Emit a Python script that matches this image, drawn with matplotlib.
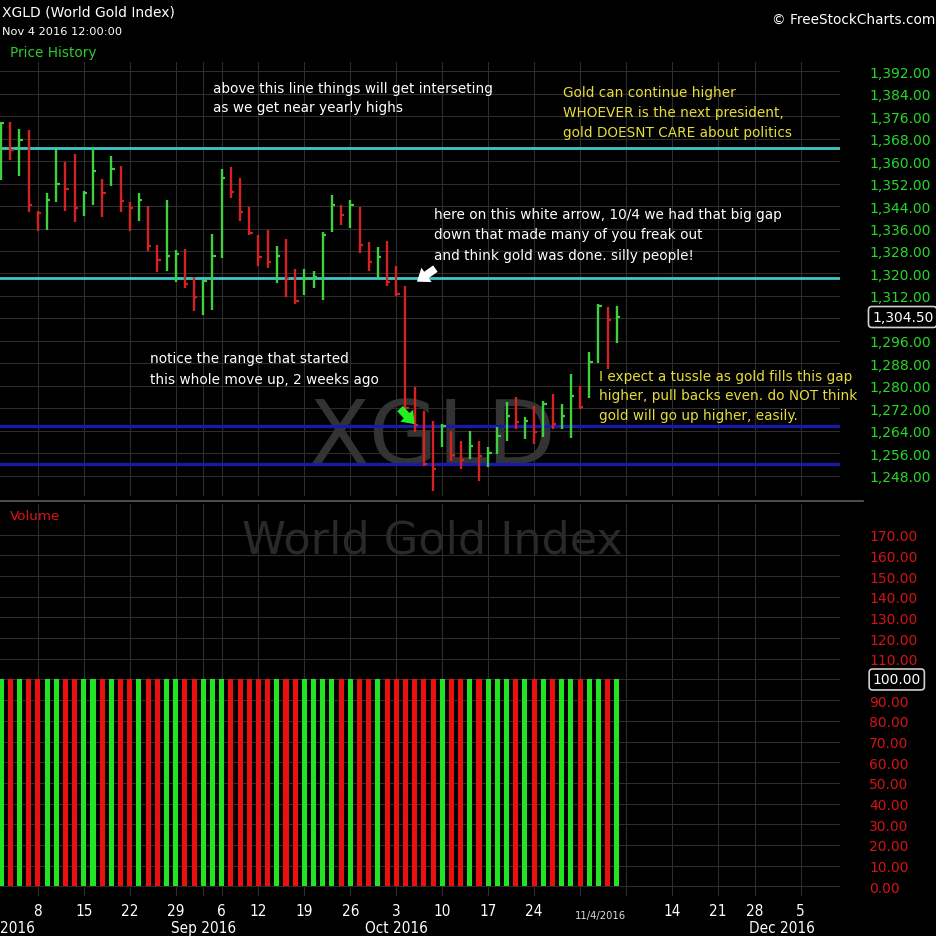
import numpy as np
import matplotlib
matplotlib.use("Agg")
import matplotlib.pyplot as plt
from matplotlib import font_manager
from matplotlib.lines import Line2D
from matplotlib.transforms import blended_transform_factory

# XGLD daily bars, Aug 2 2016 -> Nov 4 2016 (index 0 = Aug 8, trading days)
day_index = np.arange(-4, 64)

high = [1374.1, 1373.8, 1371.5, 1371.1, 1342.1, 1348.7, 1364.3, 1359.6, 1362.5, 1349.3,
        1364.6, 1353.6, 1361.7, 1358.2, 1345.3, 1348.7, 1344.1, 1330.1, 1346.2, 1328.4,
        1328.7, 1318.6, 1317.8, 1334.1, 1357.2, 1357.8, 1354.0, 1343.6, 1333.7, 1335.6,
        1329.7, 1332.3, 1321.6, 1321.6, 1321.0, 1334.9, 1348.0, 1344.4, 1346.2, 1343.6,
        1331.1, 1329.3, 1331.7, 1322.6, 1315.4, 1279.5, 1271.1, 1267.6, 1266.4, 1264.0,
        1260.5, 1263.8, 1260.5, 1258.1, 1265.4, 1274.1, 1275.9, 1268.8, 1272.9, 1274.7,
        1277.1, 1273.5, 1284.2, 1280.0, 1291.9, 1309.1, 1308.0, 1308.3]
low = [1353.4, 1360.5, 1354.6, 1341.8, 1335.2, 1335.5, 1345.3, 1342.4, 1338.2, 1340.6,
       1344.5, 1340.0, 1351.3, 1341.8, 1335.2, 1338.6, 1328.1, 1320.4, 1321.0, 1316.9,
       1314.8, 1306.7, 1305.3, 1307.1, 1325.5, 1346.8, 1338.6, 1333.7, 1322.8, 1321.8,
       1316.5, 1311.7, 1309.1, 1312.4, 1314.7, 1310.7, 1334.9, 1337.3, 1336.1, 1327.3,
       1321.0, 1318.4, 1315.6, 1311.9, 1270.5, 1263.4, 1251.5, 1242.6, 1258.1, 1253.3,
       1250.4, 1253.9, 1246.2, 1251.0, 1255.7, 1260.5, 1264.6, 1261.0, 1259.3, 1261.7,
       1264.6, 1264.6, 1261.4, 1271.7, 1275.7, 1288.0, 1286.0, 1295.1]
close = [1373.5, 1364.0, 1367.6, 1344.5, 1341.4, 1346.3, 1351.8, 1350.0, 1343.3, 1348.7,
         1356.6, 1348.7, 1357.2, 1345.9, 1343.3, 1346.2, 1329.9, 1324.9, 1326.1, 1326.9,
         1316.2, 1311.5, 1317.2, 1326.3, 1354.0, 1348.9, 1341.8, 1334.4, 1325.8, 1324.0,
         1326.1, 1318.3, 1310.3, 1318.0, 1318.6, 1333.7, 1344.4, 1340.8, 1344.4, 1330.1,
         1324.0, 1325.8, 1317.1, 1312.7, 1272.0, 1266.0, 1252.0, 1250.5, 1265.8, 1255.3,
         1253.6, 1258.7, 1255.1, 1256.1, 1262.2, 1269.4, 1267.0, 1267.6, 1263.4, 1273.5,
         1266.4, 1269.1, 1276.5, 1272.6, 1288.4, 1308.5, 1303.4, 1304.5]
volume = [100, 100, 100, 100, 100, 100, 100, 100, 100, 100, 100, 100, 100, 100, 100, 100, 100,
          100, 100, 100, 100, 100, 100, 100, 100, 100, 100, 100, 100, 100, 100, 100, 100, 100,
          100, 100, 100, 100, 100, 100, 100, 100, 100, 100, 100, 100, 100, 100, 100, 100, 100,
          100, 100, 100, 100, 100, 100, 100, 100, 100, 100, 100, 100, 100, 100, 100, 100, 100]

last_price = 1304.5
last_volume = 100

# drawn levels
cyan_levels = [1364.5, 1318.3]
blue_levels = [1265.6, 1252.0]

price_ticks = list(range(1248, 1393, 8))
volume_ticks = list(range(0, 171, 10))

day_ticks = [0, 5, 10, 15, 20, 24, 29, 34, 39, 44, 49, 54, 69, 74, 78, 83]
day_labels = ["8", "15", "22", "29", "6", "12", "19", "26", "3", "10", "17", "24",
              "14", "21", "28", "5"]
month_ticks = [18, 39, 81]
month_labels = ["Sep 2016", "Oct 2016", "Dec 2016"]
grid_x = [0, 5, 10, 15, 18, 20, 24, 29, 34, 39, 44, 49, 54, 59, 64, 69, 74, 78, 83]

W = H = 937


def fx(px):
    return px / W


def fy(py):
    return 1 - py / H


GREEN = "#3fcf3f"
RED = "#d42222"
VGREEN = "#22e422"
VRED = "#ea1010"

up = np.r_[True, np.diff(close) >= 0]
pcols = [GREEN if u else RED for u in up]
vcols = [VGREEN if u else VRED for u in up]

fig = plt.figure(figsize=(9.37, 9.37), dpi=100, facecolor="black")
ax_p = fig.add_axes([0, fy(497), fx(840), (497 - 63) / H])
ax_v = fig.add_axes([0, fy(897), fx(840), (897 - 505) / H])

for ax in (ax_p, ax_v):
    ax.set_facecolor("black")
    for s in ax.spines.values():
        s.set_visible(False)
    ax.set_xlim(-4.12, 87.28)
    ax.set_xticks(grid_x)
    ax.tick_params(axis="x", length=0, labelbottom=False)
    ax.yaxis.tick_right()
    ax.tick_params(axis="y", length=0, pad=20.9, labelsize=10)
    ax.grid(True, color="#2d2d2d", lw=0.8)
    ax.set_axisbelow(True)

# price panel
ax_p.set_ylim(1240.75, 1395.3)
ax_p.set_yticks(price_ticks)
ax_p.set_yticklabels(["" if v == 1304 else f"{v:,.2f}" for v in price_ticks],
                     color="#26d926")
for lv in cyan_levels:
    ax_p.axhline(lv, color="#3cc8c8", lw=2.0, zorder=2)
for lv in blue_levels:
    ax_p.axhline(lv, color="#1a1aa8", lw=2.4, zorder=2)
ax_p.vlines(day_index, low, high, colors=pcols, lw=1.7, zorder=4)
ax_p.hlines(close, day_index, day_index + 0.36, colors=pcols, lw=1.6, zorder=4)

arrow_style = "simple,head_width=0.9,head_length=0.6,tail_width=0.4"
ax_p.annotate("", xy=(41.0, 1316.5), xytext=(43.5, 1322.3),
              arrowprops=dict(arrowstyle=arrow_style, color="white", lw=0,
                              mutation_scale=14), zorder=5)
ax_p.annotate("", xy=(41.2, 1265.6), xytext=(39.2, 1272.6),
              arrowprops=dict(arrowstyle=arrow_style, color="#22ee22", lw=0,
                              mutation_scale=14), zorder=5)

ax_p.annotate(f"{last_price:,.2f}", xy=(1, last_price), xycoords=("axes fraction", "data"),
              xytext=(23, 0), textcoords="offset points", ha="left", va="center",
              fontsize=10, color="white",
              bbox=dict(boxstyle="round,pad=0.25", fc="black", ec="#d0d0d0", lw=1.2),
              annotation_clip=False)

ax_p.text(fx(432), fy(440), "XGLD", transform=fig.transFigure, fontsize=64,
          color="#333333", ha="center", va="center", zorder=0.6)

# volume panel
ax_v.set_ylim(-4.69, 184.85)
ax_v.set_yticks(volume_ticks)
ax_v.set_yticklabels(["" if v == 100 else f"{v:.2f}" for v in volume_ticks],
                     color="#d01414")
ax_v.bar(day_index, volume, width=0.55, color=vcols, zorder=3)
ax_v.annotate(f"{last_volume:.2f}", xy=(1, last_volume), xycoords=("axes fraction", "data"),
              xytext=(23.5, 0), textcoords="offset points", ha="left", va="center",
              fontsize=10, color="white",
              bbox=dict(boxstyle="round,pad=0.25", fc="black", ec="#d0d0d0", lw=1.2),
              annotation_clip=False)
ax_v.text(fx(432), fy(541), "World Gold Index", transform=fig.transFigure, fontsize=32,
          color="#292929", ha="center", va="center", zorder=0.6)

# x labels
names = {f.name for f in font_manager.fontManager.ttflist}
if "Liberation Sans Narrow" in names:
    xfont = dict(family="Liberation Sans Narrow", fontsize=12.5)
    sfont = dict(family="Liberation Sans Narrow", fontsize=9)
else:
    xfont = dict(family="DejaVu Sans", fontstretch="condensed", fontsize=11)
    sfont = dict(family="DejaVu Sans", fontstretch="condensed", fontsize=8)

tr = blended_transform_factory(ax_v.transData, fig.transFigure)
for j, lab in zip(day_ticks, day_labels):
    ax_v.text(j, fy(912), lab, transform=tr, ha="center", va="center",
              color="white", clip_on=False, **xfont)
for j, lab in zip(month_ticks, month_labels):
    ax_v.text(j, fy(929), lab, transform=tr, ha="center", va="center",
              color="white", clip_on=False, **xfont)
# the August label is mostly off the left edge, only its year shows
fig.text(fx(0), fy(929), "2016", ha="left", va="center", color="white", **xfont)
ax_v.text(61.2, fy(916), "11/4/2016", transform=tr, ha="center", va="center",
          color="#dcdcdc", clip_on=False, **sfont)

# separator between panels
fig.add_artist(Line2D([0, fx(863)], [fy(502), fy(502)], color="#5c5c5c", lw=1.2))

# header
fig.text(fx(2), fy(12), "XGLD (World Gold Index)", color="white", fontsize=10,
         ha="left", va="center")
fig.text(fx(2), fy(32), "Nov 4 2016 12:00:00", color="white", fontsize=8.2,
         ha="left", va="center")
fig.text(fx(10), fy(53), "Price History", color="#2ecc2e", fontsize=9.8,
         ha="left", va="center")
fig.text(fx(935), fy(20), "\u00a9 FreeStockCharts.com", color="white", fontsize=9.8,
         ha="right", va="center")
fig.text(fx(10), fy(516), "Volume", color="#dd1414", fontsize=9.7,
         ha="left", va="center")

# comments written on the chart
notes = [
    (213, [89, 108], "white", ["above this line things will get interseting",
                               "as we get near yearly highs"]),
    (563, [93, 113, 133], "#e6de38", ["Gold can continue higher",
                                      "WHOEVER is the next president,",
                                      "gold DOESNT CARE about politics"]),
    (434, [215, 235, 256], "white", ["here on this white arrow, 10/4 we had that big gap",
                                     "down that made many of you freak out",
                                     "and think gold was done. silly people!"]),
    (150, [359, 380], "white", ["notice the range that started",
                                "this whole move up, 2 weeks ago"]),
    (599, [377, 396, 416], "#e6de38", ["I expect a tussle as gold fills this gap",
                                       "higher, pull backs even. do NOT think",
                                       "gold will go up higher, easily."]),
]
for x0, ys, col, lines in notes:
    for yy, line in zip(ys, lines):
        fig.text(fx(x0), fy(yy), line, color=col, fontsize=9.8, ha="left", va="center")

fig.savefig("out.png", dpi=100, facecolor="black")
